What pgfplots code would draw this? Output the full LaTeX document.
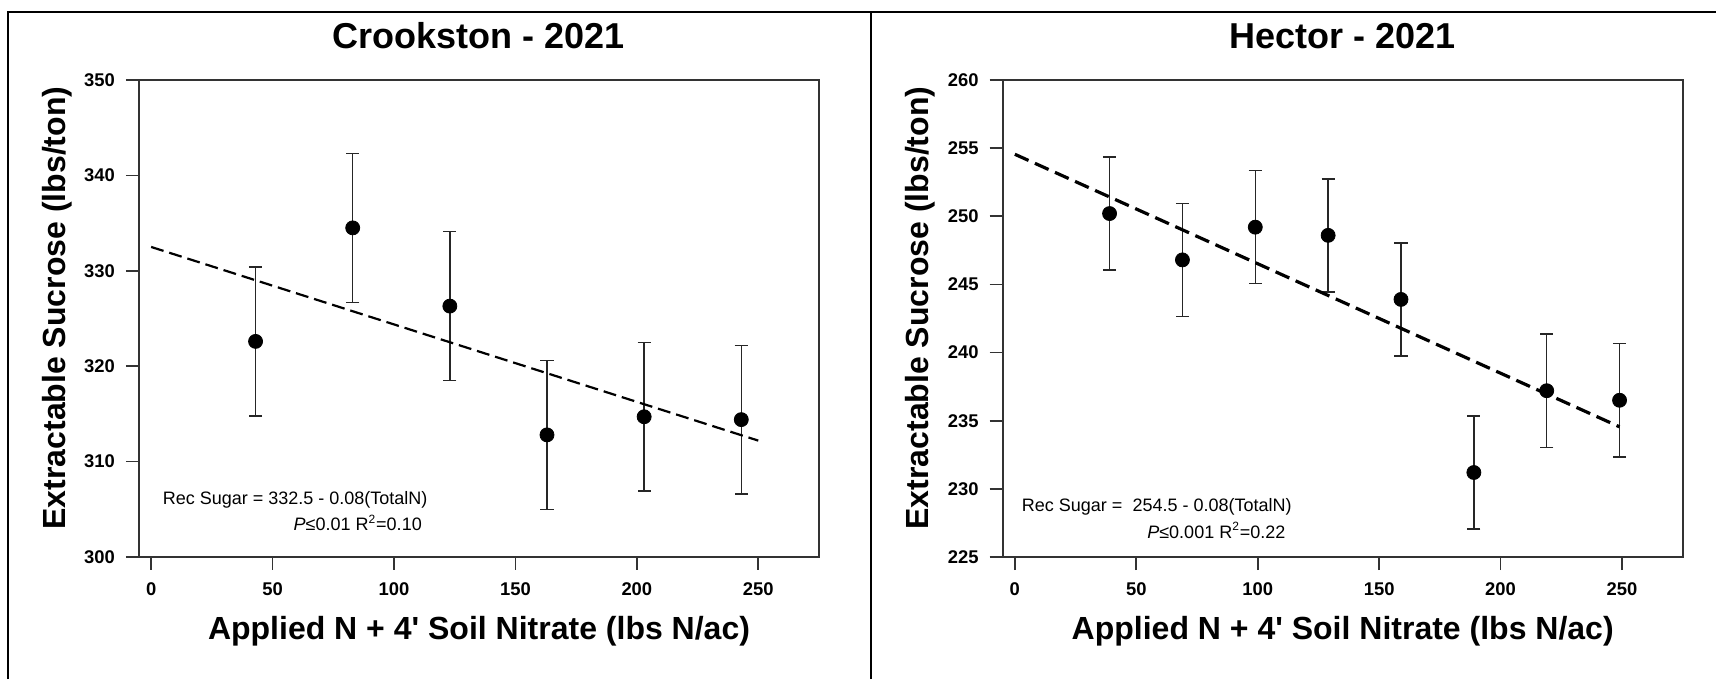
\documentclass[border=0pt]{standalone}
\usepackage{fontspec}
\setmainfont{Liberation Sans}
\usepackage{pgfplots}
\pgfplotsset{compat=1.18}
\usepackage{pgfplotstable}

\pgfplotstableread{
x y e
43 322.6 7.8
83 334.5 7.8
123 326.3 7.8
163 312.8 7.8
203 314.7 7.8
243 314.4 7.8
}\crook

\pgfplotstableread{
x y e
39 250.2 4.15
69 246.8 4.15
99 249.2 4.15
129 248.6 4.15
159 243.9 4.15
189 231.2 4.15
219 237.2 4.15
249 236.5 4.15
}\hector

\pgfplotsset{
  every axis title shift=0pt,
  panel/.style={
    scale only axis, width=340pt, height=238.5pt, anchor=south west,
    xmin=-5, xmax=275, xtick={0,50,...,250},
    tick align=outside, tick pos=left, major tick length=6.5pt,
    axis line style={line width=0.8pt, black!80},
    every tick/.style={line width=0.8pt, black!80},
    /pgf/number format/assume math mode=true,
    ticklabel style={font=\fontsize{9.2}{11}\selectfont\bfseries},
    xticklabel shift=3pt, yticklabel shift=2pt,
    title style={at={(axis description cs:0.5,1.0922)}, anchor=center, font=\fontsize{18}{21}\selectfont\bfseries},
    xlabel style={at={(axis description cs:0.5,-0.156)}, anchor=center, font=\fontsize{16}{19}\selectfont\bfseries},
    ylabel style={at={(axis description cs:-0.1206,0.522)}, anchor=center, rotate=0, font=\fontsize{16}{19}\selectfont\bfseries},
    xlabel={Applied N + 4\textquotesingle{} Soil Nitrate (lbs N/ac)},
    ylabel={Extractable Sucrose (lbs/ton)},
    clip=false,
  },
  pts/.style={only marks, mark=*, black, mark size=3.5pt, mark options={fill=black, draw=black},
    error bars/.cd, y dir=both, y explicit,
    error bar style={line width=0.7pt, black!85},
    error mark options={rotate=90, mark size=3.3pt, line width=0.7pt, black!85}},
}

\begin{document}
\begin{tikzpicture}
\path[use as bounding box] (0,0) rectangle (858pt,339.5pt);
\draw[line width=1pt] (4pt,0) -- (4pt,333.5pt) -- (858pt,333.5pt);
\draw[line width=1pt] (435.5pt,0) -- (435.5pt,333.5pt);

\begin{axis}[panel, at={(69.5pt,61pt)},
  ymin=300, ymax=350, ytick={300,310,...,350},
  title={Crookston - 2021}]
\addplot[pts] table[x=x, y=y, y error=e] {\crook};
\addplot[black, line width=1.1pt, dash pattern=on 6.5pt off 3pt] coordinates {(0,332.5) (250,312.2)};
\node[anchor=west, inner sep=0, font=\fontsize{9}{11}\selectfont] at (axis cs:4.65,305.95) {Rec Sugar = 332.5 - 0.08(TotalN)};
\node[anchor=east, inner sep=0, font=\fontsize{9}{11}\selectfont] at (axis cs:111.6,303.57) {\textit{P}≤0.01 R\textsuperscript{2}=0.10};
\end{axis}

\begin{axis}[panel, at={(501.35pt,61pt)},
  ymin=225, ymax=260, ytick={225,230,...,260},
  title={Hector - 2021}]
\addplot[pts] table[x=x, y=y, y error=e] {\hector};
\addplot[black, line width=1.6pt, dash pattern=on 7.5pt off 3.5pt] coordinates {(0,254.55) (249,234.55)};
\node[anchor=west, inner sep=0, font=\fontsize{9}{11}\selectfont] at (axis cs:2.76,228.67) {Rec Sugar =\ \ 254.5 - 0.08(TotalN)};
\node[anchor=east, inner sep=0, font=\fontsize{9}{11}\selectfont] at (axis cs:111.6,226.93) {\textit{P}≤0.001 R\textsuperscript{2}=0.22};
\end{axis}
\end{tikzpicture}
\end{document}
